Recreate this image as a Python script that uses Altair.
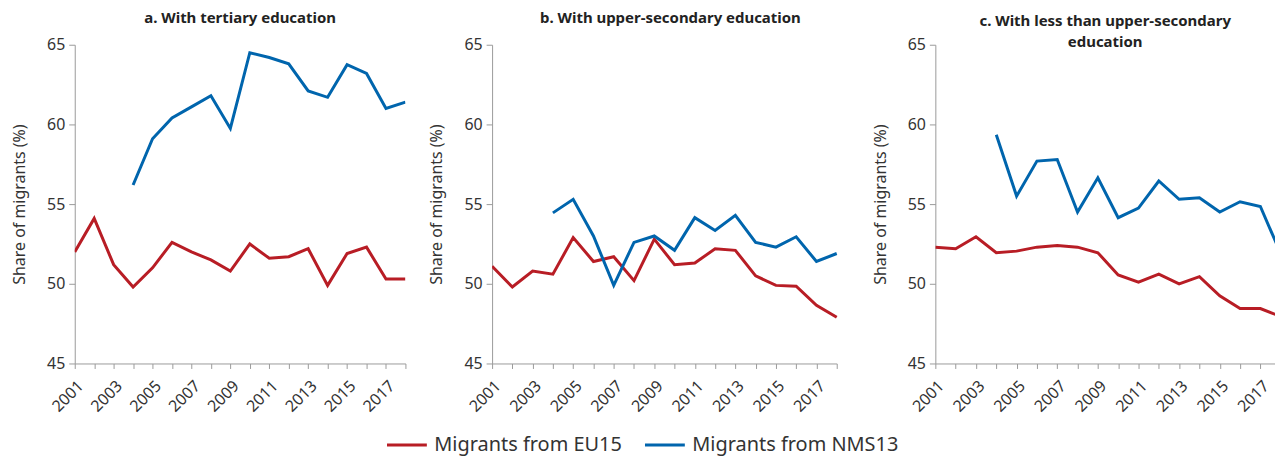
import altair as alt
import pandas as pd

years = list(range(2001, 2019))
nms_years = list(range(2004, 2019))
series_names = ["Migrants from EU15", "Migrants from NMS13"]
series_colors = ["#B81D25", "#0065AD"]

eu15_tertiary = [52.0, 54.1, 51.2, 49.8, 51.0, 52.6, 52.0, 51.5, 50.8, 52.5, 51.6, 51.7, 52.2, 49.9, 51.9, 52.3, 50.3, 50.3]
nms13_tertiary = [56.2, 59.1, 60.4, 61.1, 61.8, 59.75, 64.5, 64.2, 63.8, 62.1, 61.7, 63.75, 63.2, 61.0, 61.4]

eu15_upper = [51.1, 49.8, 50.8, 50.6, 52.9, 51.4, 51.7, 50.2, 52.8, 51.2, 51.3, 52.2, 52.1, 50.5, 49.9, 49.85, 48.65, 47.9]
nms13_upper = [54.45, 55.3, 53.0, 49.9, 52.6, 53.0, 52.1, 54.15, 53.35, 54.3, 52.6, 52.3, 52.95, 51.4, 51.9]

eu15_less = [52.3, 52.2, 52.95, 51.95, 52.05, 52.3, 52.4, 52.3, 51.95, 50.55, 50.1, 50.6, 50.0, 50.45, 49.25, 48.45, 48.45, 47.95]
nms13_less = [59.35, 55.5, 57.7, 57.8, 54.5, 56.65, 54.15, 54.75, 56.45, 55.3, 55.4, 54.5, 55.15, 54.85, 51.9]

titles = [
    "a. With tertiary education",
    "b. With upper-secondary education",
    ["c. With less than upper-secondary", "education"],
]
y_ticks = [45, 50, 55, 60, 65]


def make_df(eu, nms):
    rows = []
    for yr, v in zip(years, eu):
        rows.append({"year": yr, "value": v, "series": series_names[0]})
    for yr, v in zip(nms_years, nms):
        rows.append({"year": yr, "value": v, "series": series_names[1]})
    return pd.DataFrame(rows)


def panel(eu, nms, title, width, axis_len, xmax, title_offset):
    df = make_df(eu, nms)
    tick_years = [y for y in years if y <= xmax]
    return alt.Chart(df).mark_line(strokeWidth=3, clip=True).encode(
        x=alt.X(
            "year:Q",
            scale=alt.Scale(domain=[2001, xmax], nice=False, zero=False, range=[0, axis_len]),
            axis=alt.Axis(
                values=tick_years,
                labelExpr="datum.value % 2 == 1 ? '' + datum.value : ''",
                labelAngle=315,
                labelAlign="right",
                labelBaseline="top",
                labelPadding=9,
                tickSize=5,
                title=None,
                labelOverlap=False,
            ),
        ),
        y=alt.Y(
            "value:Q",
            scale=alt.Scale(domain=[45, 65], nice=False, zero=False),
            axis=alt.Axis(values=y_ticks, tickSize=6, labelPadding=4,
                          title="Share of migrants (%)", titlePadding=19),
        ),
        color=alt.Color(
            "series:N",
            scale=alt.Scale(domain=series_names, range=series_colors),
            legend=alt.Legend(title=None, orient="none", legendX=312, legendY=380,
                              direction="horizontal", labelLimit=0),
        ),
        detail="series:N",
    ).properties(
        width=width,
        height=320,
        title=alt.TitleParams(text=title, offset=title_offset, lineHeight=21),
    )


pa = panel(eu15_tertiary, nms13_tertiary, titles[0], 332, 332, 2018, 11)
pb = panel(eu15_upper, nms13_upper, titles[1], 358, 346, 2018, 11)
pc = panel(eu15_less, nms13_less, titles[2], 341, 341, 2017.72, -13)

chart = alt.hconcat(pa, pb, pc, spacing=87, bounds="flush").properties(
    padding={"left": 3, "top": 2, "right": 0, "bottom": 0}
).configure(
    font="Noto Sans"
).configure_view(
    stroke=None
).configure_axis(
    grid=False,
    domainColor="#9a9a9a",
    tickColor="#9a9a9a",
    labelColor="#333333",
    titleColor="#333333",
    labelFontSize=16,
    titleFontSize=16,
    titleFontWeight="normal",
).configure_title(
    fontSize=15,
    fontWeight="bold",
    color="#222222",
    anchor="middle",
).configure_legend(
    labelFontSize=20,
    labelColor="#333333",
    symbolType="stroke",
    symbolStrokeWidth=3,
    symbolSize=1600,
    labelOffset=6,
    columnPadding=16,
    labelLimit=0,
)

chart.save("out.html", embed_options={"renderer": "svg", "actions": False})
